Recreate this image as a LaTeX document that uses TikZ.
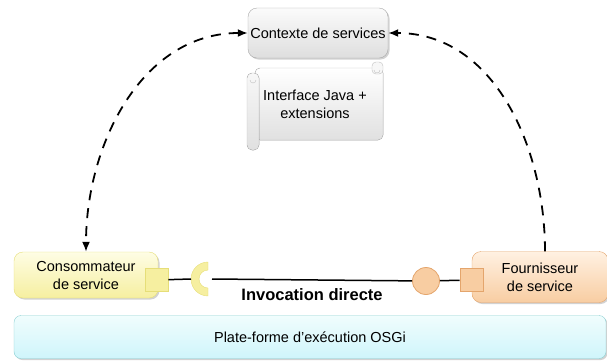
\documentclass[tikz,border=0pt]{standalone}
\usepackage{fontspec}
\setmainfont{Liberation Sans}
\usetikzlibrary{positioning,arrows.meta,shadows}

\definecolor{consoTop}{HTML}{FEFDE4}
\definecolor{consoBot}{HTML}{F6EFA0}
\definecolor{consoLine}{HTML}{E6DE78}
\definecolor{fournTop}{HTML}{FFF1E2}
\definecolor{fournBot}{HTML}{F8CDA2}
\definecolor{fournLine}{HTML}{E4A56C}
\definecolor{platTop}{HTML}{F0FDFD}
\definecolor{platBot}{HTML}{CFF5FB}
\definecolor{platLine}{HTML}{8ACFD2}
\definecolor{ctxTop}{HTML}{FBFBFB}
\definecolor{ctxBot}{HTML}{DEDEDE}
\definecolor{ctxLine}{HTML}{A8A8A8}

\begin{document}
\begin{tikzpicture}
[x=1pt,y=-1pt,
 boxDecorate/.style={rounded corners=9pt,align=center,inner sep=0pt,
   font=\fontsize{14.5}{18}\selectfont,
   drop shadow={shadow xshift=1.5pt,shadow yshift=-1.5pt,fill=black!35}},
 consoDecorate/.style={boxDecorate,top color=consoTop,bottom color=consoBot,draw=consoLine},
 fournDecorate/.style={boxDecorate,top color=fournTop,bottom color=fournBot,draw=fournLine},
 portDecorate/.style={minimum size=23pt,inner sep=0pt,thick},
 lineDecorate/.style={-,line width=1.5pt},
 tipDecorate/.tip={Latex[length=10pt,width=8pt]},
 dashDecorate/.style={line width=1.8pt,dash pattern=on 10pt off 8pt}]
\useasboundingbox (0,0) rectangle (607,360);
%% boxes
\node (ctx) at (318,33) [boxDecorate,minimum width=140pt,minimum height=50pt,
  top color=ctxTop,bottom color=ctxBot,draw=ctxLine] {Contexte de services};
\node (conso) at (86,275) [consoDecorate,minimum width=144pt,minimum height=46pt]
  {Consommateur\\de service};
\node (fourn) at (540,277) [fournDecorate,minimum width=136pt,minimum height=51pt]
  {Fournisseur\\de service};
\node (platform) at (310,337) [boxDecorate,minimum width=592pt,minimum height=43pt,
  rounded corners=7pt,top color=platTop,bottom color=platBot,draw=platLine]
  {Plate-forme d'exécution OSGi};
%% scroll
\begin{scope}[draw=black!25]
  \filldraw[top color=white,bottom color=black!12,rounded corners=5pt]
    (255,68) rectangle (383,140);
  \filldraw[rounded corners=5pt,top color=black!3,bottom color=black!12] (247,73) rectangle (259,150);
  \filldraw[rounded corners=4pt,fill=black!3] (372,62) rectangle (383,74);
  \draw (250,80) arc (180:0:3);
  \draw (374,70) arc (180:0:3);
\end{scope}
\node (iface) at (315,104) [align=center,font=\fontsize{14.5}{18}\selectfont]
  {Interface Java +\\extensions};
%% ports
\node (sqC) at (156.5,280) [portDecorate,draw=consoLine,fill=consoBot] {};
\node (sqF) at (471.5,280) [portDecorate,draw=fournLine,fill=fournBot] {};
\node (ballF) at (426,281) [portDecorate,circle,minimum size=27pt,draw=fournLine,fill=fournBot] {};
\coordinate (sockC) at (208,279);
\filldraw[fill=consoBot,draw=consoLine] (208,262) arc (270:90:17) -- (208,288)
  arc (90:270:9) -- cycle;
%% links
\draw[lineDecorate] (sqC) -- (191,279);
\draw[lineDecorate] (212,279) -- (ballF) node[pos=0.5,below=5pt,font=\bfseries\fontsize{16.5}{18}\selectfont] {Invocation directe};
\draw[lineDecorate] (ballF) -- (sqF);
\draw[dashDecorate,tipDecorate-tipDecorate] (ctx.west) to[out=180,in=90] (conso.north);
\draw[dashDecorate,-tipDecorate] ([xshift=5pt]fourn.north) to[out=90,in=0] (ctx.east);
\end{tikzpicture}
\end{document}
